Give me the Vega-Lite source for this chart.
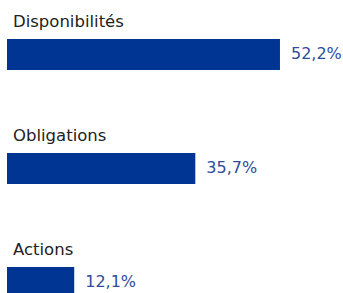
{
  "$schema": "https://vega.github.io/schema/vega-lite/v6.json",
  "autosize": "none",
  "width": 313,
  "height": {"step": 114},
  "padding": {"left": 7, "top": 0, "right": 23, "bottom": 0},
  "background": "white",
  "config": {"view": {"stroke": null}},
  "data": {"values": [
    {"categorie": "Disponibilités", "valeur": 52.2, "label": "52,2%"},
    {"categorie": "Obligations", "valeur": 35.7, "label": "35,7%"},
    {"categorie": "Actions", "valeur": 12.1, "label": "12,1%"}
  ]},
  "encoding": {
    "y": {"field": "categorie", "type": "nominal", "sort": null, "axis": null,
          "scale": {"paddingInner": 0.728, "paddingOuter": 0.342}}
  },
  "layer": [
    {
      "mark": {"type": "bar", "color": "#003594"},
      "encoding": {
        "x": {"field": "valeur", "type": "quantitative", "axis": null,
              "scale": {"domain": [-1, 60], "nice": false, "zero": false}},
        "x2": {"datum": -1}
      }
    },
    {
      "mark": {"type": "text", "align": "left", "baseline": "alphabetic", "dy": -27.5, "dx": 6,
               "font": "DejaVu Sans", "fontSize": 16.5, "color": "#222222"},
      "encoding": {
        "x": {"datum": -1},
        "text": {"field": "categorie"}
      }
    },
    {
      "mark": {"type": "text", "align": "left", "baseline": "middle", "dx": 11,
               "font": "DejaVu Sans", "fontSize": 16, "color": "#2E4C9C"},
      "encoding": {
        "x": {"field": "valeur", "type": "quantitative"},
        "text": {"field": "label"}
      }
    }
  ]
}
